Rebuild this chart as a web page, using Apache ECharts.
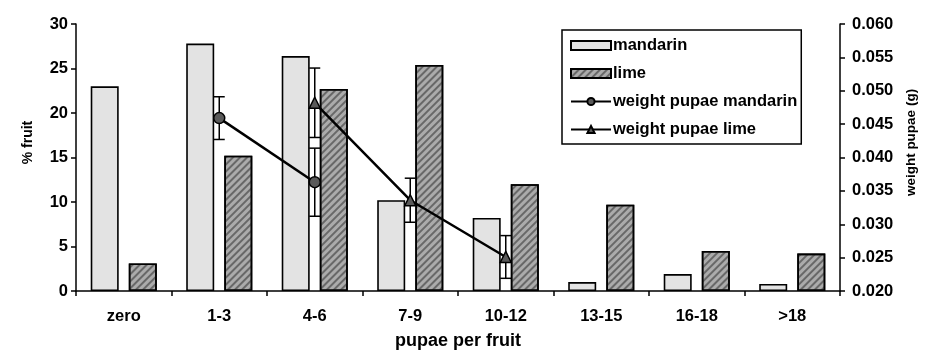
<!DOCTYPE html>
<html>
<head>
<meta charset="utf-8">
<script src="https://cdn.jsdelivr.net/npm/echarts@6/dist/echarts.min.js"></script>
<style>
html,body{margin:0;padding:0;background:#fff;}
#chart{width:932px;height:355px;}
</style>
</head>
<body>
<div id="chart"></div>
<script>
const categories = ['zero', '1-3', '4-6', '7-9', '10-12', '13-15', '16-18', '>18'];
const mandarinPct = [23.0, 27.8, 26.4, 10.2, 8.2, 1.0, 1.9, 0.8];
const limePct = [3.1, 15.2, 22.7, 25.4, 12.0, 9.7, 4.5, 4.2];
const weightMandarin = [null, 0.0459, 0.0363, null, null, null, null, null];
const weightMandarinErr = [null, 0.0032, 0.0051, null, null, null, null, null];
const weightLime = [null, null, 0.0482, 0.0336, 0.0251, null, null, null];
const weightLimeErr = [null, null, 0.0052, 0.0033, 0.0032, null, null, null];
const leftTicks = { min: 0, max: 30, interval: 5 };
const rightTicks = { min: 0.020, max: 0.060, interval: 0.005 };

const FONT = "'Liberation Sans', Arial, sans-serif";
const chart = echarts.init(document.getElementById('chart'), null, { renderer: 'canvas' });

function errData(vals, errs) {
  const out = [];
  vals.forEach((v, i) => { if (v != null && errs[i] != null) out.push([i, v, errs[i]]); });
  return out;
}
function errRender(params, api) {
  const x = api.value(0), y = api.value(1), e = api.value(2);
  const top = api.coord([x, y + e]);
  const bot = api.coord([x, y - e]);
  const hw = 5.5;
  const st = { stroke: '#000', lineWidth: 1.5 };
  return {
    type: 'group',
    children: [
      { type: 'line', shape: { x1: top[0], y1: top[1], x2: bot[0], y2: bot[1] }, style: st },
      { type: 'line', shape: { x1: top[0] - hw, y1: top[1], x2: top[0] + hw, y2: top[1] }, style: st },
      { type: 'line', shape: { x1: bot[0] - hw, y1: bot[1], x2: bot[0] + hw, y2: bot[1] }, style: st }
    ]
  };
}

const limeDecal = {
  symbol: 'rect', symbolSize: 1, color: 'rgba(50,50,50,0.55)',
  dashArrayX: [1, 0], dashArrayY: [2, 3], rotation: -Math.PI / 4
};

const option = {
  animation: false,
  textStyle: { fontFamily: FONT, color: '#000' },
  grid: { left: 76, right: 92, top: 24, bottom: 63 },
  legend: {
    orient: 'vertical', left: 562, top: 30,
    padding: [7, 4, 6, 8],
    itemWidth: 40, itemHeight: 9, itemGap: 11,
    borderColor: '#000', borderWidth: 1.5,
    textStyle: { fontFamily: FONT, fontSize: 16.5, fontWeight: 'bold', color: '#000', padding: [0, 0, 0, -3] },
    data: [
      { name: 'mandarin', icon: 'rect' },
      { name: 'lime', icon: 'rect' },
      'weight pupae mandarin',
      'weight pupae lime'
    ]
  },
  xAxis: {
    type: 'category', data: categories,
    name: 'pupae per fruit', nameLocation: 'middle', nameGap: 41,
    nameTextStyle: { fontFamily: FONT, fontSize: 18, fontWeight: 'bold', color: '#000' },
    axisLine: { lineStyle: { color: '#000', width: 1.5 } },
    axisTick: { show: true, length: 5, lineStyle: { color: '#000', width: 1.5 } },
    axisLabel: { fontFamily: FONT, fontSize: 16.5, fontWeight: 'bold', color: '#000', margin: 17 }
  },
  yAxis: [
    {
      type: 'value', min: leftTicks.min, max: leftTicks.max, interval: leftTicks.interval,
      name: '% fruit', nameLocation: 'middle', nameGap: 41, nameRotate: 90,
      nameTextStyle: { fontFamily: FONT, fontSize: 14, fontWeight: 'bold', color: '#000', padding: [0, 0, 0, 30] },
      axisLine: { show: true, lineStyle: { color: '#000', width: 1.5 } },
      axisTick: { show: true, length: 5, lineStyle: { color: '#000', width: 1.5 } },
      splitLine: { show: false },
      axisLabel: { fontFamily: FONT, fontSize: 16.5, fontWeight: 'bold', color: '#000', margin: 8 }
    },
    {
      type: 'value', position: 'right', min: rightTicks.min, max: rightTicks.max, interval: rightTicks.interval,
      name: 'weight pupae (g)', nameLocation: 'middle', nameGap: 59, nameRotate: 90,
      nameTextStyle: { fontFamily: FONT, fontSize: 13.5, fontWeight: 'bold', color: '#000', padding: [0, 0, 0, 30] },
      axisLine: { show: true, lineStyle: { color: '#000', width: 1.5 } },
      axisTick: { show: true, length: 5, lineStyle: { color: '#000', width: 1.5 } },
      splitLine: { show: false },
      axisLabel: { fontFamily: FONT, fontSize: 16.5, fontWeight: 'bold', color: '#000', margin: 12,
        formatter: v => v.toFixed(3) }
    }
  ],
  series: [
    {
      name: 'mandarin', type: 'bar', data: mandarinPct, barWidth: 28, barGap: '36%',
      itemStyle: { color: '#e3e3e3', borderColor: '#000', borderWidth: 1.6 }, z: 2
    },
    {
      name: 'lime', type: 'bar', data: limePct, barWidth: 28,
      itemStyle: { color: '#ababab', borderColor: '#000', borderWidth: 1.6, decal: limeDecal }, z: 2
    },
    {
      name: 'err mandarin', type: 'custom', yAxisIndex: 1, renderItem: errRender,
      data: errData(weightMandarin, weightMandarinErr), z: 4, silent: true
    },
    {
      name: 'err lime', type: 'custom', yAxisIndex: 1, renderItem: errRender,
      data: errData(weightLime, weightLimeErr), z: 4, silent: true
    },
    {
      name: 'weight pupae mandarin', type: 'line', yAxisIndex: 1, data: weightMandarin,
      symbol: 'circle', symbolSize: 11, connectNulls: false,
      lineStyle: { color: '#000', width: 2.5 },
      itemStyle: { color: '#5a5a5a', borderColor: '#000', borderWidth: 1.5 }, z: 5
    },
    {
      name: 'weight pupae lime', type: 'line', yAxisIndex: 1, data: weightLime,
      symbol: 'triangle', symbolSize: 11, connectNulls: false,
      lineStyle: { color: '#000', width: 2.5 },
      itemStyle: { color: '#5a5a5a', borderColor: '#000', borderWidth: 1.5 }, z: 5
    }
  ]
};
chart.setOption(option);
</script>
</body>
</html>
